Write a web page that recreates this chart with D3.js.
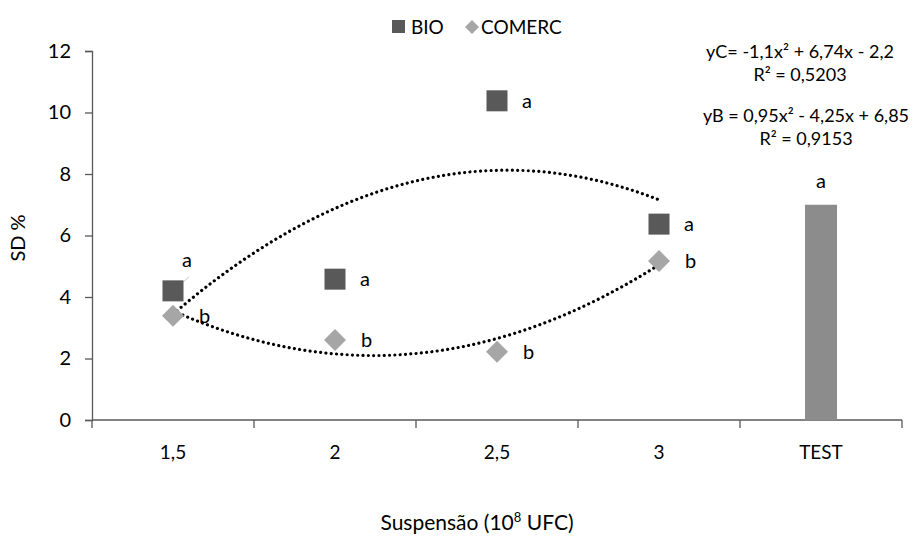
<html>
<head>
  <script src="https://d3js.org/d3.v7.min.js"></script>
  <style>
    body { margin: 0; background: #fff; }
    text { font-family: Lato, "Open Sans", sans-serif; fill: #000; }
  </style>
</head>
<body>
  <div id="chart"></div>
  <script>

    // categories on the x axis
    var categories = ["1,5", "2", "2,5", "3", "TEST"];
    var doses = ["1,5", "2", "2,5", "3"];

    // series values (SD %)
    var bioValues = [4.2, 4.58, 10.38, 6.37];
    var comercValues = [3.39, 2.6, 2.22, 5.17];
    var testValue = 7.0;

    // significance letters
    var bioLetters = ["a", "a", "a", "a"];
    var comercLetters = ["b", "b", "b", "b"];
    var testLetter = "a";

    // trendline coefficients (a, b, c) of y = a x² + b x + c, x = 1..4
    var coefC = [-1.1, 6.74, -2.2];
    var coefB = [0.95, -4.25, 6.85];
    var equations = [
      ["yC= -1,1x² + 6,74x - 2,2", "R² = 0,5203"],
      ["yB = 0,95x² - 4,25x + 6,85", "R² = 0,9153"]
    ];

    var yTicks = [0, 2, 4, 6, 8, 10, 12];

    var W = 917, H = 539;
    var margin = {top: 51, right: 15, bottom: 119, left: 92};

    var svg = d3.select("#chart")
      .append("svg")
        .attr("width", W)
        .attr("height", H);

    var x = d3.scaleBand()
      .domain(categories)
      .range([margin.left, W - margin.right]);

    var y = d3.scaleLinear()
      .domain([0, 12])
      .range([H - margin.bottom, margin.top]);

    var cx = d => x(d) + x.bandwidth() / 2;

    // x index scale for the trendlines
    var xi = d3.scaleLinear()
      .domain([1, 4])
      .range([cx(doses[0]), cx(doses[3])]);

    var axisColor = "#595959";

    // y axis
    var yAxis = svg.append("g")
      .attr("transform", `translate(${margin.left},0)`)
      .call(d3.axisLeft(y).tickValues(yTicks).tickSize(7).tickPadding(14).tickFormat(d3.format("d")));
    yAxis.select(".domain").attr("stroke", axisColor).attr("stroke-width", 1.3);
    yAxis.selectAll(".tick line").attr("stroke", axisColor).attr("stroke-width", 1.3);
    yAxis.selectAll(".tick text").style("font-size", "20px").attr("fill", "#000");

    // x axis: ticks between categories
    var xAxisG = svg.append("g")
      .attr("transform", `translate(0,${y(0)})`);
    xAxisG.append("line")
      .attr("x1", margin.left).attr("x2", W - margin.right)
      .attr("stroke", axisColor).attr("stroke-width", 1.3);
    xAxisG.selectAll(".sep")
      .data(categories.map(c => x(c)).concat([x(categories[categories.length - 1]) + x.bandwidth()]))
      .join("line")
        .attr("class", "sep")
        .attr("x1", d => d).attr("x2", d => d)
        .attr("y1", 0).attr("y2", 8)
        .attr("stroke", axisColor).attr("stroke-width", 1.3);
    xAxisG.selectAll(".lbl")
      .data(categories)
      .join("text")
        .attr("class", "lbl")
        .attr("x", d => cx(d))
        .attr("y", 39)
        .attr("text-anchor", "middle")
        .style("font-size", "19px")
        .text(d => d);

    // TEST bar
    svg.append("rect")
      .attr("x", cx("TEST") - 16)
      .attr("y", y(testValue))
      .attr("width", 32)
      .attr("height", y(0) - y(testValue))
      .attr("fill", "#8c8c8c");
    svg.append("text")
      .attr("x", cx("TEST"))
      .attr("y", y(testValue) - 17)
      .attr("text-anchor", "middle")
      .style("font-size", "20px")
      .text(testLetter);

    // trendlines
    var quad = c => t => c[0] * t * t + c[1] * t + c[2];
    var steps = d3.range(1, 4.001, 0.02);
    var line = d3.line()
      .x(d => xi(d[0]))
      .y(d => y(d[1]));
    [coefC, coefB].forEach(function(c) {
      var f = quad(c);
      svg.append("path")
        .datum(steps.map(t => [t, f(t)]))
        .attr("d", line)
        .attr("fill", "none")
        .attr("stroke", "#000")
        .attr("stroke-width", 3.2)
        .attr("stroke-linecap", "round")
        .attr("stroke-dasharray", "0.01 5.3");
    });

    // leader line for first BIO label
    svg.append("line")
      .attr("x1", cx(doses[0])).attr("y1", y(bioValues[0]))
      .attr("x2", cx(doses[0]) + 16).attr("y2", y(bioValues[0]) - 14)
      .attr("stroke", "#c8c8c8").attr("stroke-width", 1);

    // BIO squares
    svg.selectAll(".bio")
      .data(bioValues)
      .join("rect")
        .attr("class", "bio")
        .attr("x", (d, i) => cx(doses[i]) - 10.5)
        .attr("y", d => y(d) - 10.5)
        .attr("width", 21)
        .attr("height", 21)
        .attr("fill", "#595959");

    // COMERC diamonds
    svg.selectAll(".com")
      .data(comercValues)
      .join("path")
        .attr("class", "com")
        .attr("d", "M0,-11L11,0L0,11L-11,0Z")
        .attr("transform", (d, i) => `translate(${cx(doses[i])},${y(d)})`)
        .attr("fill", "#a6a6a6");

    // letters
    svg.selectAll(".bioL")
      .data(bioValues)
      .join("text")
        .attr("class", "bioL")
        .attr("x", (d, i) => cx(doses[i]) + (i === 0 ? 9 : 25))
        .attr("y", (d, i) => y(d) + (i === 0 ? -24 : 7))
        .style("font-size", "20px")
        .text((d, i) => bioLetters[i]);
    svg.selectAll(".comL")
      .data(comercValues)
      .join("text")
        .attr("class", "comL")
        .attr("x", (d, i) => cx(doses[i]) + 26)
        .attr("y", d => y(d) + 7)
        .style("font-size", "20px")
        .text((d, i) => comercLetters[i]);

    // equations
    var eqX = [800, 806], eqY = [58, 122];
    equations.forEach(function(eq, k) {
      eq.forEach(function(s, j) {
        svg.append("text")
          .attr("x", eqX[k])
          .attr("y", eqY[k] + j * 23)
          .attr("text-anchor", "middle")
          .style("font-size", "18px")
          .text(s);
      });
    });

    // legend
    var lg = svg.append("g").attr("transform", "translate(0,27)");
    lg.append("rect").attr("x", 392).attr("y", -7).attr("width", 13).attr("height", 13).attr("fill", "#595959");
    lg.append("text").attr("x", 411).attr("y", 7).style("font-size", "19px").text("BIO");
    lg.append("path").attr("d", "M0,-7L7,0L0,7L-7,0Z").attr("transform", "translate(472,0)").attr("fill", "#a6a6a6");
    lg.append("text").attr("x", 481).attr("y", 7).style("font-size", "19px").text("COMERC");

    // axis titles
    svg.append("text")
      .attr("transform", "translate(25,238) rotate(-90)")
      .attr("text-anchor", "middle")
      .style("font-size", "20px")
      .text("SD %");

    var xt = svg.append("text")
      .attr("x", 477)
      .attr("y", 530)
      .attr("text-anchor", "middle")
      .style("font-size", "21px");
    xt.append("tspan").text("Suspensão (10");
    xt.append("tspan").attr("dy", -8).style("font-size", "13px").text("8");
    xt.append("tspan").attr("dy", 8).text(" UFC)");

  </script>
</body>
</html>
